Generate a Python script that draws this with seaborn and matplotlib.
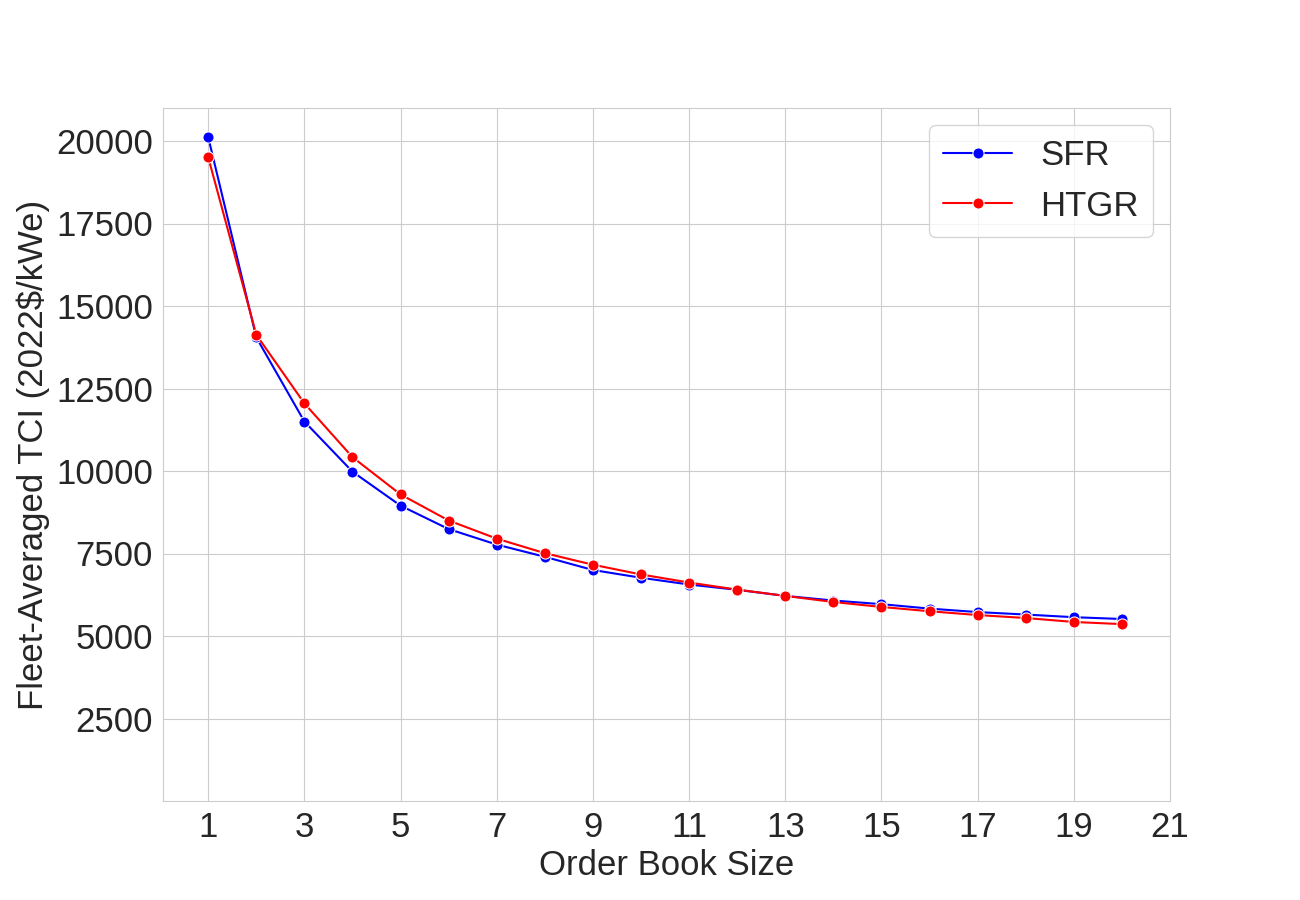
import pandas as pd
import numpy as np
import matplotlib
matplotlib.use("Agg")
import matplotlib.pyplot as plt
import seaborn as sns

# --- Data ---
order_book = list(range(1, 21))

sfr_tci = [20120, 14050, 11500, 9980, 8950, 8240, 7770, 7400, 7000, 6765,
           6560, 6400, 6215, 6075, 5965, 5830, 5725, 5650, 5570, 5515]
htgr_tci = [19510, 14130, 12050, 10420, 9290, 8500, 7950, 7510, 7160, 6865,
            6620, 6405, 6215, 6030, 5880, 5750, 5635, 5545, 5425, 5360]

reactor_names = ['SFR', 'HTGR']
reactor_colors = {'SFR': 'blue', 'HTGR': 'red'}


def main():
    df = pd.concat([
        pd.DataFrame({'Order Book Size': order_book, 'TCI': sfr_tci, 'Reactor': 'SFR'}),
        pd.DataFrame({'Order Book Size': order_book, 'TCI': htgr_tci, 'Reactor': 'HTGR'}),
    ], ignore_index=True)

    sns.set_style('whitegrid')
    plt.rcParams['font.family'] = ['Liberation Sans', 'DejaVu Sans']

    fig, ax = plt.subplots(figsize=(13, 9), dpi=100)

    sns.lineplot(
        data=df,
        x='Order Book Size',
        y='TCI',
        hue='Reactor',
        hue_order=reactor_names,
        palette=reactor_colors,
        marker='o',
        markersize=8,
        linewidth=1.5,
        ax=ax,
    )

    ax.set_xticks(np.arange(1, 22, 2))
    ax.set_yticks(np.arange(2500, 20001, 2500))
    ax.set_ylim(0, 21000)
    ax.tick_params(axis='both', labelsize=25)

    ax.set_xlabel('Order Book Size', fontsize=25)
    ax.set_ylabel('Fleet-Averaged TCI (2022$/kWe)', fontsize=25)

    ax.legend(loc='upper right', fontsize=25)

    fig.savefig('out.png')
    plt.close(fig)


if __name__ == '__main__':
    main()
